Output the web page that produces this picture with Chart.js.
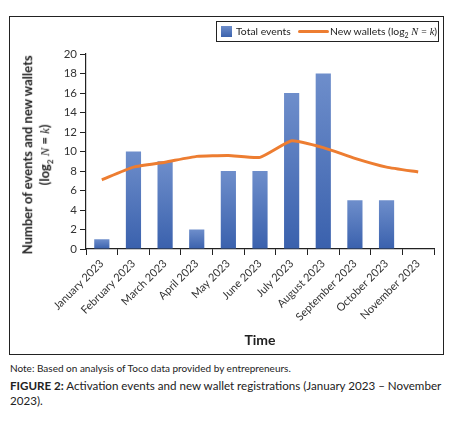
<!DOCTYPE html>
<html>
<head>
<meta charset="utf-8">
<script src="https://cdn.jsdelivr.net/npm/chart.js@4.4.0/dist/chart.umd.min.js"></script>
<style>
  body { margin: 0; background: #fff; font-family: Lato, "Noto Sans", sans-serif; color: #222; }
  #frame { position: absolute; left: 9px; top: 16px; width: 435px; height: 339px; border: 1.5px solid #222; box-sizing: border-box; }
  #wrap { position: absolute; left: 0; top: 0; width: 432px; height: 336px; }
  #legend { position: absolute; left: 206px; top: 4px; width: 223px; height: 21px; border: 1px solid #222; box-sizing: border-box; font-size: 10.4px; color: #222; }
  #legend .sw { position: absolute; left: 4px; top: 4px; width: 11px; height: 11px; background: linear-gradient(#6d8dca, #3c63ad); }
  #legend .t1 { position: absolute; left: 19px; top: 3px; }
  #legend .ln { position: absolute; left: 81px; top: 8px; width: 31px; height: 3px; background: #ed7d31; border-radius: 2px; }
  #legend .t2 { position: absolute; left: 113px; top: 3px; white-space: nowrap; }
  #ytitle { position: absolute; left: -76px; top: 135px; width: 230px; text-align: center; font-weight: bold; font-size: 13px; line-height: 17px; transform: rotate(-90deg); white-space: nowrap; color: #222; }
  #note { position: absolute; left: 10px; top: 362px; font-size: 10px; color: #222; }
  #caption { position: absolute; left: 10px; top: 378px; width: 440px; font-size: 11.6px; line-height: 15px; color: #222; }
  i { font-family: "Liberation Serif", serif; font-style: italic; font-weight: normal; }
</style>
</head>
<body>
<div id="frame">
  <div id="wrap"><canvas id="chart"></canvas></div>
  <div id="legend">
    <span class="sw"></span><span class="t1">Total events</span>
    <span class="ln"></span><span class="t2">New wallets (log<sub style="font-size:7px">2</sub> <i>N</i> = <i>k</i>)</span>
  </div>
</div>
<div id="ytitle">Number of events and new wallets<br>(log<sub style="font-size:8px">2</sub> <i>N</i> = <i>k</i>)</div>
<div id="note">Note: Based on analysis of Toco data provided by entrepreneurs.</div>
<div id="caption"><b>FIGURE 2:</b> Activation events and new wallet registrations (January 2023 – November 2023).</div>

<script>
const months = ['January 2023', 'February 2023', 'March 2023', 'April 2023', 'May 2023', 'June 2023',
  'July 2023', 'August 2023', 'September 2023', 'October 2023', 'November 2023'];
const totalEvents = [1, 10, 9, 2, 8, 8, 16, 18, 5, 5, 0];
const newWallets = [7.1, 8.4, 8.9, 9.5, 9.6, 9.4, 11.1, 10.4, 9.3, 8.4, 7.9];
const yTicks = [0, 2, 4, 6, 8, 10, 12, 14, 16, 18, 20];

// gradient per bar: lighter at the top, darker at the base
function barFill(ctx) {
  const chart = ctx.chart;
  if (!chart.chartArea || ctx.type !== 'data') return '#4a70b8';
  const y = chart.scales.y;
  const top = y.getPixelForValue(ctx.raw);
  const base = y.getPixelForValue(0);
  if (base - top < 1) return '#4a70b8';
  const g = chart.ctx.createLinearGradient(0, top, 0, base);
  g.addColorStop(0, '#6e8ecb');
  g.addColorStop(1, '#3a61ad');
  return g;
}

const ctx = document.getElementById('chart').getContext('2d');
new Chart(ctx, {
  data: {
    labels: months,
    datasets: [
      {
        type: 'line',
        label: 'New wallets (log2 N = k)',
        data: newWallets,
        borderColor: '#ed7d31',
        borderWidth: 3,
        pointRadius: 0,
        tension: 0.15,
        order: 0
      },
      {
        type: 'bar',
        label: 'Total events',
        data: totalEvents,
        backgroundColor: barFill,
        barPercentage: 0.48,
        categoryPercentage: 1,
        order: 1
      }
    ]
  },
  options: {
    responsive: true,
    maintainAspectRatio: false,
    animation: false,
    layout: { padding: { top: 37, right: 8, left: 0, bottom: 4 } },
    plugins: { legend: { display: false }, tooltip: { enabled: false } },
    scales: {
      x: {
        grid: { display: true, drawOnChartArea: false, offset: true, tickLength: 6, color: '#222', lineWidth: 1 },
        border: { display: true, color: '#222', width: 1.2 },
        ticks: { minRotation: 45, maxRotation: 45, color: '#333', padding: 2, font: { family: 'Lato', size: 11 } },
        title: { display: true, text: 'Time', color: '#222', font: { family: 'Lato', size: 14, weight: 'bold' }, padding: { top: 4, bottom: 0 } },
        afterFit: s => { s.height = 100; }
      },
      y: {
        min: 0,
        max: 20,
        afterBuildTicks: s => { s.ticks = yTicks.map(v => ({ value: v })); },
        grid: { display: true, drawOnChartArea: false, tickLength: 6, color: '#222', lineWidth: 1 },
        border: { display: true, color: '#222', width: 1.2 },
        ticks: { color: '#333', padding: 3, font: { family: 'Lato', size: 11.5 } },
        afterFit: s => { s.width = 76; }
      }
    }
  }
});
</script>
</body>
</html>
